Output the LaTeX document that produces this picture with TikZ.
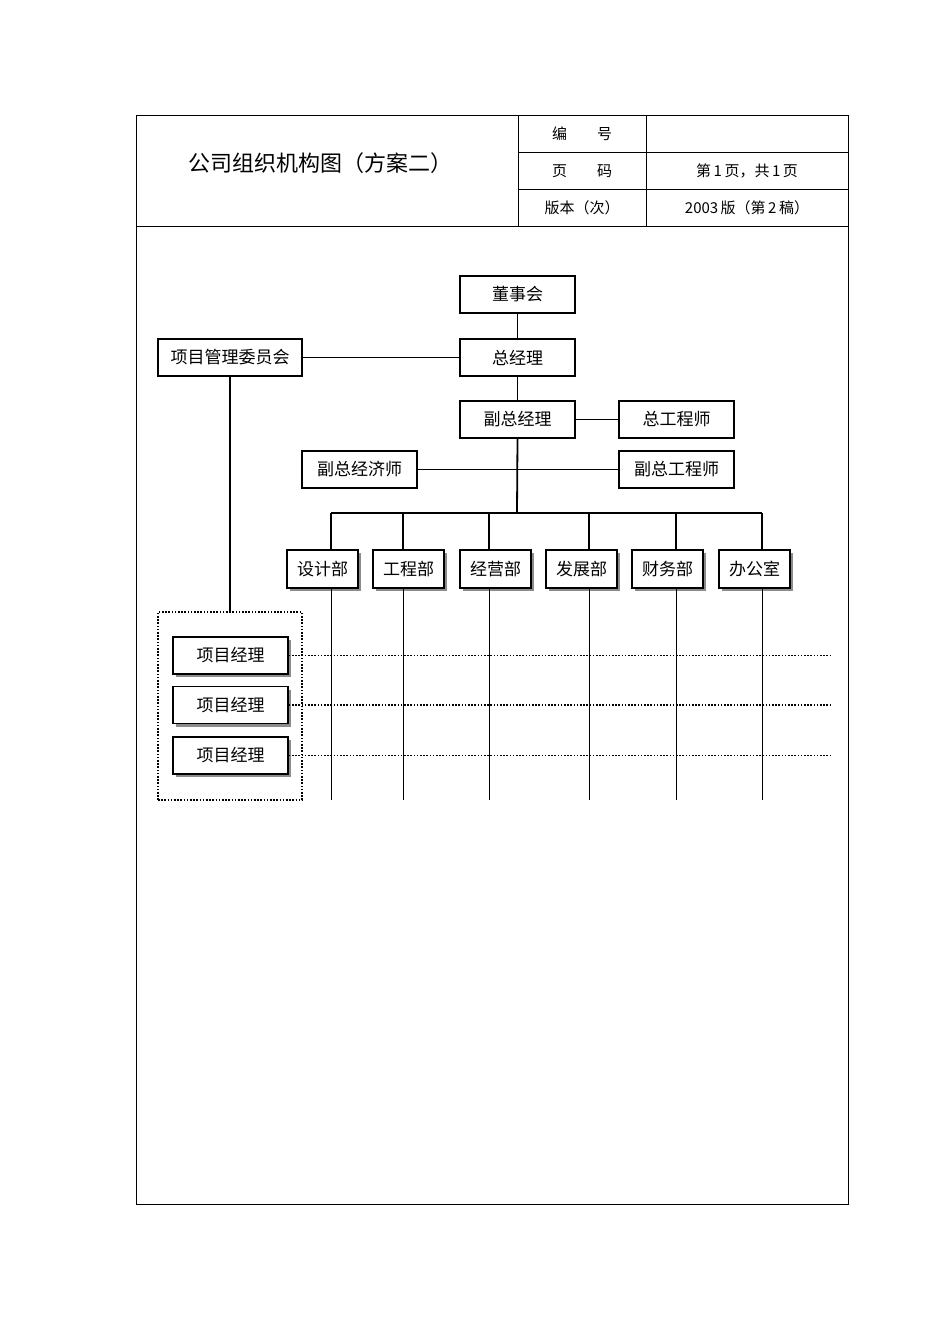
\documentclass[tikz,border=0pt]{standalone}
\usepackage{fontspec}
\setmainfont{Liberation Serif}
\newfontfamily\cjk{Noto Sans CJK SC}
\usetikzlibrary{shadows}
\begin{document}
\begin{tikzpicture}[x=1pt,y=-1pt,
  bx/.style={draw,line width=1.6pt,fill=white,minimum width=115pt,minimum height=37pt,inner sep=0pt,font=\cjk\fontsize{17}{17}\selectfont},
  sbx/.style={bx,drop shadow={shadow xshift=3pt,shadow yshift=-3pt,fill=black!45,opacity=1}},
  ln/.style={line width=1.8pt},
  thin/.style={line width=1pt},
  dot/.style={line width=1.6pt,dash pattern=on 1.6pt off 1.6pt},
  tt/.style={font=\cjk\fontsize{15}{15}\selectfont}]
\useasboundingbox (0,0) rectangle (950,1344);
% frame
\draw[line width=0.8pt] (136,115) rectangle (848,1204);
\draw[line width=0.8pt] (136,226) -- (848,226);
\draw[line width=0.8pt] (518,115) -- (518,226) (646,115) -- (646,226) (518,152) -- (848,152) (518,189) -- (848,189);
\node[font=\cjk\fontsize{22}{22}\selectfont] (title) at (320,163) {公司组织机构图（方案二）};
\node[tt] (h1) at (582,134) {编\hspace{2em}号};
\node[tt] (h2) at (582,171) {页\hspace{2em}码};
\node[tt] (h3) at (582,208) {版本（次）};
\node[tt] (v2) at (747,171) {第\,1\,页，共\,1\,页};
\node[tt] (v3) at (747,208) {2003\,版（第\,2\,稿）};
% boxes
\node[bx] (dsh) at (517.5,294.5) {董事会};
\node[bx] (zjl) at (517.5,357.5) {总经理};
\node[bx,minimum width=144pt] (xmw) at (230,357.5) {项目管理委员会};
\node[bx] (fzjl) at (517.5,419.5) {副总经理};
\node[bx] (zgcs) at (676.5,419.5) {总工程师};
\node[bx] (fzjj) at (359.5,469.5) {副总经济师};
\node[bx] (fzgc) at (676.5,469.5) {副总工程师};
\draw[ln] (dsh) -- (zjl);
\draw[ln] (xmw) -- (zjl);
\draw[ln] (zjl) -- (fzjl);
\draw[ln] (fzjl) -- (zgcs);
\draw[ln] (fzjj) -- (fzgc);
\coordinate (bus) at (517,513);
\draw[ln] (fzjl.south) -- (bus);
\draw[ln] (331,513) -- (762,513);
% departments
\foreach \n/\t/\cx/\lx in {d1/设计部/322.5/331,d2/工程部/408.5/403,d3/经营部/495.5/489,d4/发展部/581.5/589,d5/财务部/667.5/676,d6/办公室/754.5/762}{
  \draw[ln] (\lx,513) -- (\lx,560);
  \node[sbx,minimum width=71pt,minimum height=38pt] (\n) at (\cx,569) {\t};
  \draw[thin] (\lx,588) -- (\lx,800);
}
% dotted group
\node[draw,dot,minimum width=144pt,minimum height=188pt,inner sep=0pt] (grp) at (230,706) {};
\draw[ln] (xmw) -- (grp.north);
\foreach \n/\y in {p1/655.5,p2/705,p3/755.5}{
  \node[sbx,minimum width=115pt] (\n) at (230.5,\y) {项目经理};
  \coordinate (\n e) at (832,\y);
  \draw[dot] (\n.east) -- (\n e);
}
\end{tikzpicture}
\end{document}
